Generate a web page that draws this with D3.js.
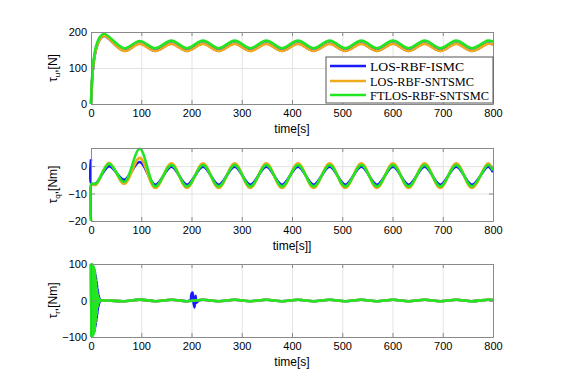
<!DOCTYPE html>
<html>
<head>
<meta charset="utf-8">
<script src="https://cdn.jsdelivr.net/npm/d3@7"></script>
<style>
  html, body { margin: 0; padding: 0; background: #fff; }
  svg { display: block; }
</style>
</head>
<body>
<svg id="chart" width="564" height="390"></svg>
<script>
// ---------------- DATA ----------------
const seriesNames = ["LOS-RBF-ISMC", "LOS-RBF-SNTSMC", "FTLOS-RBF-SNTSMC"];
const xTicks = [0, 100, 200, 300, 400, 500, 600, 700, 800];
const uTicks = [0, 100, 200];
const qTicks = [-20, -10, 0];
const rTicks = [-100, 0, 100];

// shared steady-state extreme times (trough, peak, trough, ...)
const tWave = [66, 97, 128, 160, 191, 223, 254, 286, 317, 349, 380, 412, 443, 475, 506, 538, 569, 601, 632, 664, 695, 727, 758, 790, 800];

// Panel 1: tau_u [N]
const uStartT = [0, 2, 5, 10, 17, 26];
const uBlue   = [0, 62, 112, 152, 178, 189, 148, 168, 148, 168, 148, 168, 148, 168, 148, 168, 148, 168, 148, 168, 148, 168, 148, 168, 148, 168, 148, 168, 148, 168, 166];
const uOrange = [0, 62, 112, 152, 178, 190, 147, 167, 147, 167, 147, 167, 147, 167, 147, 167, 147, 167, 147, 167, 147, 167, 147, 167, 147, 167, 147, 167, 147, 167, 165];
const uGreen  = [0, 70, 120, 160, 185, 195, 155, 175, 155, 176, 155, 176, 155, 176, 155, 176, 155, 176, 155, 176, 155, 176, 155, 176, 155, 176, 155, 176, 155, 176, 173];

// Panel 2: tau_q [Nm]
const qStartT = [0, 1, 10, 36];
const qBlue   = [2.5, -6.5, -6.3, 0, -5, 1.5, -6.8, -0.2, -6.8, -0.2, -6.8, -0.2, -6.8, -0.2, -6.8, -0.2, -6.8, -0.2, -6.8, -0.2, -6.8, -0.2, -6.8, -0.2, -6.8, -0.2, -6.8, -0.2, -2.2];
const qOrange = [-20, -6.8, -6.8, 1.2, -6.5, 3, -8, 1, -8, 1, -8, 1, -8, 1, -8, 1, -8, 1, -8, 1, -8, 1, -8, 1, -8, 1, -8, 1, -1.3];
const qGreen  = [-20, -6.5, -6.4, 0.8, -5.8, 6.3, -7.4, 0.4, -7.4, 0.4, -7.4, 0.4, -7.4, 0.4, -7.4, 0.4, -7.4, 0.4, -7.4, 0.4, -7.4, 0.4, -7.4, 0.4, -7.4, 0.4, -7.4, 0.4, -1.6];

// Panel 3: tau_r [Nm]
const rStartT = [0, 0.5, 1, 1.5, 2, 2.5, 3, 3.5, 4, 4.5, 5, 5.5, 6, 6.5, 7, 7.5, 8, 8.5, 9, 9.5, 10, 10.5, 11, 11.5, 12, 12.5, 13, 13.5, 14, 14.5, 15, 15.5, 16, 16.5, 17, 17.5, 18, 18.5, 19, 19.5, 20, 35];
const rBlueStart   = [100, -100, 99, -99, 98, -97, 96, -95, 94, -93, 92, -90, 88, -86, 84, -81, 78, -75, 72, -68, 64, -59, 54, -49, 44, -39, 34, -29, 25, -21, 17, -14, 11, -8, 6, -4, 3, -2, 1, 0, 0, 0];
const rOrangeStart = [100, -100, 99, -99, 98, -97, 96, -95, 94, -92, 90, -88, 86, -82, 78, -73, 68, -62, 56, -50, 44, -38, 33, -28, 23, -19, 16, -13, 10, -8, 6, -5, 4, -3, 2, -1, 1, 0, 0, 0, 0, 0];
const rGreenStart  = [100, -100, 100, -99, 99, -98, 98, -97, 96, -95, 94, -92, 90, -87, 83, -78, 72, -66, 60, -54, 48, -42, 36, -31, 26, -22, 18, -15, 12, -9, 7, -5, 4, -3, 2, -1.5, 1, -0.5, 0, 0, 0, 0];
const rWave        = [-2, 2.5, -2, 2, -2, 2, -2, 2, -2, 2, -2, 2, -2, 2, -2, 2, -2, 2, -2, 2, -2, 2, -2, 2, 1];
// blue disturbance near t = 200 s
const rBlueBumpT = [195, 198, 200, 202, 204, 206, 208, 210, 214];
const rBlueBumpV = [-1, 0, 18, 22, -5, -19, 13, -6, 0];

const colors = ["#1a1aff", "#f0aa1e", "#22e622"];

// ---------------- LAYOUT ----------------
const svg = d3.select("#chart");
const X0 = 91, X1 = 493;
const x = d3.scaleLinear().domain([0, 800]).range([X0, X1]);

const panels = [
  { top: 32, bottom: 104, domain: [0, 200], ticks: uTicks, sub: "u", unit: ",[N]", xl: "time[s]",
    series: [
      { t: uStartT.concat(tWave), v: uBlue },
      { t: uStartT.concat(tWave), v: uOrange },
      { t: uStartT.concat(tWave), v: uGreen }
    ] },
  { top: 148, bottom: 221, domain: [-20, 6.6], ticks: qTicks, sub: "q", unit: ",[Nm]", xl: "time[s]]",
    series: [
      { t: qStartT.concat(tWave), v: qBlue },
      { t: qStartT.concat(tWave), v: qOrange },
      { t: qStartT.concat(tWave), v: qGreen }
    ] },
  { top: 264, bottom: 337, domain: [-100, 100], ticks: rTicks, sub: "r", unit: ",[Nm]", xl: "time[s]",
    series: (function () {
      const baseT = rStartT.concat(tWave);
      const blueT = [], blueV = [];
      const bv = rBlueStart.concat(rWave);
      baseT.forEach((t, i) => { if (t < 195 || t > 214) { blueT.push(t); blueV.push(bv[i]); } });
      rBlueBumpT.forEach((t, i) => { blueT.push(t); blueV.push(rBlueBumpV[i]); });
      const idx = d3.range(blueT.length).sort((a, b) => blueT[a] - blueT[b]);
      return [
        { t: idx.map(i => blueT[i]), v: idx.map(i => blueV[i]) },
        { t: baseT, v: rOrangeStart.concat(rWave) },
        { t: baseT, v: rGreenStart.concat(rWave) }
      ];
    })() }
];

const defs = svg.append("defs");

panels.forEach((p, pi) => {
  const y = d3.scaleLinear().domain(p.domain).range([p.bottom, p.top]);
  const g = svg.append("g");
  const h = p.bottom - p.top;

  // grid
  g.append("g").attr("transform", `translate(0,${p.bottom})`)
    .call(d3.axisBottom(x).tickValues(xTicks).tickSize(-h).tickFormat(""))
    .call(s => s.select(".domain").remove())
    .call(s => s.selectAll("line").attr("stroke", "#e3e3e3").attr("stroke-width", 1));
  g.append("g").attr("transform", `translate(${X0},0)`)
    .call(d3.axisLeft(y).tickValues(p.ticks).tickSize(-(X1 - X0)).tickFormat(""))
    .call(s => s.select(".domain").remove())
    .call(s => s.selectAll("line").attr("stroke", "#e3e3e3").attr("stroke-width", 1));

  // clip (slightly larger than the box, as line width spills over)
  defs.append("clipPath").attr("id", "clip" + pi)
    .append("rect").attr("x", X0 - 2).attr("y", p.top - 1.5).attr("width", X1 - X0 + 3).attr("height", h + 3);

  const line = d3.line().curve(d3.curveCatmullRom.alpha(0.5));
  const dg = g.append("g").attr("clip-path", `url(#clip${pi})`);
  p.series.forEach((s, si) => {
    dg.append("path")
      .attr("d", line(s.t.map((t, i) => [x(t), y(s.v[i])])))
      .attr("fill", "none")
      .attr("stroke", colors[si])
      .attr("stroke-width", 2.6)
      .attr("stroke-linejoin", "round");
  });

  // axes (ticks inward)
  const axStyle = s => {
    s.selectAll("path.domain").attr("stroke", "#8a8a8a");
    s.selectAll(".tick line").attr("stroke", "#8a8a8a");
    s.selectAll("text").attr("fill", "#000").attr("font-family", "Arial, 'Liberation Sans', sans-serif").attr("font-size", 11);
  };
  g.append("g").attr("transform", `translate(0,${p.bottom})`)
    .call(d3.axisBottom(x).tickValues(xTicks).tickSizeInner(-4).tickSizeOuter(0).tickPadding(5).tickFormat(d3.format("d")))
    .call(axStyle);
  g.append("g").attr("transform", `translate(0,${p.top})`)
    .call(d3.axisTop(x).tickValues(xTicks).tickSizeInner(-4).tickSizeOuter(0).tickFormat(""))
    .call(axStyle);
  g.append("g").attr("transform", `translate(${X0},0)`)
    .call(d3.axisLeft(y).tickValues(p.ticks).tickSizeInner(-4).tickSizeOuter(0).tickPadding(4).tickFormat(d3.format("d")))
    .call(axStyle);
  g.append("g").attr("transform", `translate(${X1},0)`)
    .call(d3.axisRight(y).tickValues(p.ticks).tickSizeInner(-4).tickSizeOuter(0).tickFormat(""))
    .call(axStyle);

  // x label
  g.append("text")
    .attr("x", (X0 + X1) / 2).attr("y", p.bottom + 29)
    .attr("text-anchor", "middle")
    .attr("font-family", "Arial, 'Liberation Sans', sans-serif").attr("font-size", 12)
    .text(p.xl);

  // y label
  const yl = g.append("text")
    .attr("transform", `translate(57,${(p.top + p.bottom) / 2}) rotate(-90)`)
    .attr("text-anchor", "middle")
    .attr("font-family", "Arial, 'Liberation Sans', sans-serif").attr("font-size", 12);
  yl.append("tspan").text("τ");
  yl.append("tspan").attr("font-size", 8).attr("dy", 3).text(p.sub);
  yl.append("tspan").attr("dy", -3).text(p.unit);
});

// ---------------- LEGEND ----------------
const lg = svg.append("g");
lg.append("rect").attr("x", 326).attr("y", 57).attr("width", 167).attr("height", 46)
  .attr("fill", "#fff").attr("stroke", "#555").attr("stroke-width", 1);
const rowsY = [66, 81, 95];
const textW = [94, 104, 119];
seriesNames.forEach((n, i) => {
  lg.append("line").attr("x1", 330).attr("x2", 366).attr("y1", rowsY[i]).attr("y2", rowsY[i])
    .attr("stroke", colors[i]).attr("stroke-width", 2.6);
  lg.append("text").attr("x", 370).attr("y", rowsY[i] + 4.5)
    .attr("font-family", "'Liberation Serif', 'Times New Roman', serif").attr("font-size", 13)
    .attr("textLength", textW[i]).attr("lengthAdjust", "spacingAndGlyphs")
    .text(n);
});
</script>
</body>
</html>
